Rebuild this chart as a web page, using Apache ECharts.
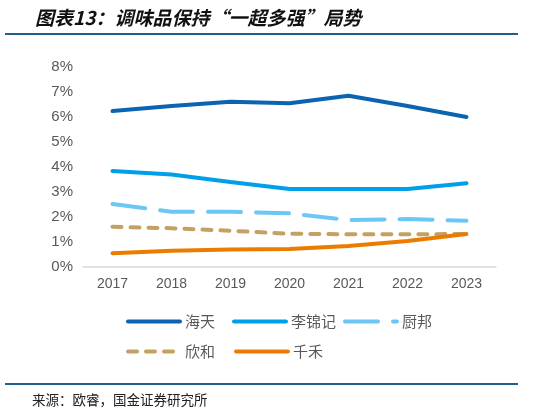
<!DOCTYPE html>
<html>
<head>
<meta charset="utf-8">
<script src="https://cdn.jsdelivr.net/npm/echarts@6/dist/echarts.min.js"></script>
<style>
  html, body { margin: 0; padding: 0; background: #fff; }
  #chart { width: 559px; height: 415px; }
</style>
</head>
<body>
<div id="chart"></div>
<script>
    // 年份
    var years = ['2017', '2018', '2019', '2020', '2021', '2022', '2023'];
    // 各品牌市占率（%）
    var haitian = [6.24, 6.44, 6.61, 6.55, 6.85, 6.44, 6.0];
    var lijinji = [3.84, 3.7, 3.4, 3.12, 3.12, 3.12, 3.35];
    var chubang = [2.52, 2.21, 2.21, 2.15, 1.88, 1.92, 1.85];
    var xinhe = [1.61, 1.55, 1.45, 1.33, 1.31, 1.31, 1.32];
    var qianhe = [0.55, 0.65, 0.7, 0.72, 0.84, 1.04, 1.32];

    var myChart = echarts.init(document.getElementById('chart'));
    var cjk = '"Noto Sans CJK SC", sans-serif';

    function line(name, data, color, dash) {
        return {
            name: name,
            type: 'line',
            data: data,
            symbol: 'none',
            lineStyle: { color: color, width: 4, type: dash || 'solid', cap: 'round' },
            itemStyle: { color: color }
        };
    }

    var legendBase = {
        itemWidth: 52,
        itemHeight: 6,
        lineStyle: { width: 4, cap: 'round' },
        itemStyle: { opacity: 0 },
        textStyle: { color: '#595959', fontSize: 15, fontFamily: cjk }
    };

    var option = {
        animation: false,
        title: {
            text: '图表13：调味品保持“一超多强”局势',
            left: 30,
            top: 3,
            textStyle: { fontSize: 19, fontStyle: 'italic', fontWeight: 'bold', color: '#111', fontFamily: cjk }
        },
        graphic: [
            { type: 'rect', shape: { x: 5, y: 33, width: 513, height: 2 }, style: { fill: '#1f5f8f' } },
            { type: 'rect', shape: { x: 5, y: 383, width: 513, height: 2 }, style: { fill: '#1f5f8f' } },
            { type: 'text', left: 32, top: 393, style: { text: '来源：欧睿，国金证券研究所', fill: '#222', font: '13.5px "Noto Sans CJK SC", sans-serif' } }
        ],
        legend: [
            Object.assign({ data: ['海天', '李锦记'], left: 121, top: 309, itemGap: 17 }, legendBase),
            Object.assign({ data: ['厨邦'], left: 338, top: 309 }, legendBase),
            Object.assign({ data: ['欣和'], left: 121, top: 339 }, legendBase),
            Object.assign({ data: ['千禾'], left: 229, top: 339 }, legendBase)
        ],
        grid: { left: 83, right: 63, top: 67, bottom: 148 },
        xAxis: {
            type: 'category',
            data: years,
            boundaryGap: true,
            axisLine: { lineStyle: { color: '#d9d9d9', width: 1.5 } },
            axisTick: { inside: true, length: 5, lineStyle: { color: '#d9d9d9' } },
            axisLabel: { color: '#595959', fontSize: 14, margin: 10 }
        },
        yAxis: {
            type: 'value',
            min: 0,
            max: 8,
            interval: 1,
            splitLine: { show: false },
            axisLine: { show: false },
            axisTick: { show: false },
            axisLabel: { color: '#595959', fontSize: 15, formatter: '{value}%', margin: 10 }
        },
        series: [
            line('海天', haitian, '#0b64b0'),
            line('李锦记', lijinji, '#00a0e9'),
            line('厨邦', chubang, '#6dc6f6', [33, 15]),
            line('欣和', xinhe, '#c4a062', [9, 9]),
            line('千禾', qianhe, '#ec7c00')
        ]
    };

    myChart.setOption(option);
</script>
</body>
</html>
